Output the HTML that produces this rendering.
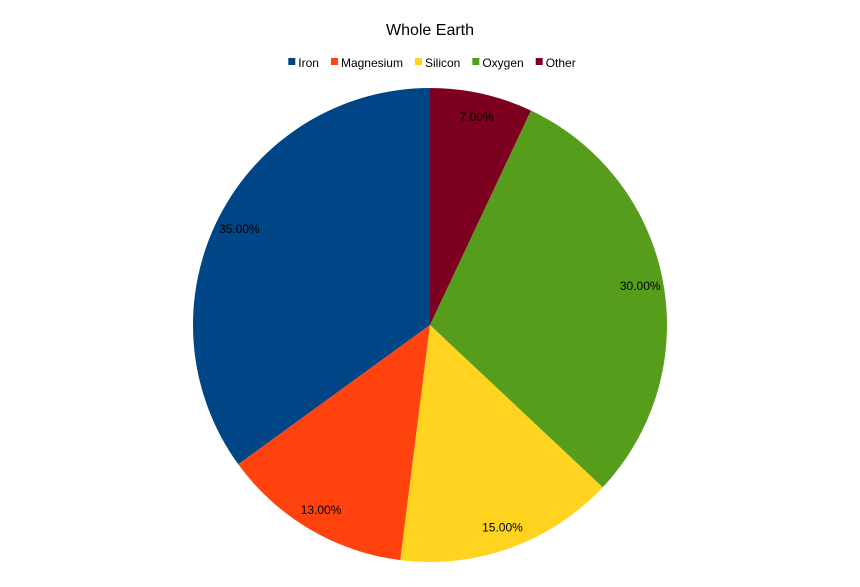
<!DOCTYPE html>
<html><head><meta charset="utf-8"><style>
body{margin:0;background:#fff;width:860px;height:582px;overflow:hidden;font-family:"Liberation Sans",sans-serif}
</style></head><body>
<svg id="chart" width="860" height="582" xmlns="http://www.w3.org/2000/svg">
<rect width="860" height="582" fill="#fff"/>
<text x="430" y="35" text-anchor="middle" font-size="16" fill="#000">Whole Earth</text>
<g id="legend"></g>
<g id="slices"></g>
<g id="labels"></g>
</svg>
<script>
const categories = ["Iron","Magnesium","Silicon","Oxygen","Other"];
const values = [35,13,15,30,7];
const colors = ["#004586","#ff420e","#ffd320","#579d1c","#7e0021"];
const NS="http://www.w3.org/2000/svg";
const cx=430, cy=325, r=237, lr=214;
const total=values.reduce((a,b)=>a+b,0);
const slices=document.getElementById('slices'), labels=document.getElementById('labels'), legend=document.getElementById('legend');
function pt(frac,rad){const a=frac*2*Math.PI;return [cx-rad*Math.sin(a), cy-rad*Math.cos(a)];}
let acc=0;
values.forEach((v,i)=>{
  const f0=acc/total, f1=(acc+v)/total; acc+=v;
  const p0=pt(f0,r), p1=pt(f1,r);
  const large=(f1-f0)>0.5?1:0;
  const path=document.createElementNS(NS,'path');
  path.setAttribute('d',`M${cx},${cy} L${p0[0]},${p0[1]} A${r},${r} 0 ${large} 0 ${p1[0]},${p1[1]} Z`);
  path.setAttribute('fill',colors[i]);
  
  
  slices.appendChild(path);
  const lp=pt((f0+f1)/2,lr);
  const t=document.createElementNS(NS,'text');
  t.setAttribute('x',lp[0]);t.setAttribute('y',lp[1]+5);
  t.setAttribute('text-anchor','middle');t.setAttribute('font-size','12');
  t.textContent=(v/total*100).toFixed(2)+'%';
  
  
  labels.appendChild(t);
});
const ctx=document.createElement('canvas').getContext('2d');
ctx.font='12px "Liberation Sans"';
let widths=categories.map(c=>10+ctx.measureText(c).width);
const gap=12;
let totalW=widths.reduce((a,b)=>a+b,0)+gap*(categories.length-1);
let x=432-totalW/2;
categories.forEach((c,i)=>{
  const g=document.createElementNS(NS,'g');
  
  
  const s=document.createElementNS(NS,'rect');
  s.setAttribute('x',x);s.setAttribute('y',58);s.setAttribute('width',7);s.setAttribute('height',7);s.setAttribute('fill',colors[i]);
  const t=document.createElementNS(NS,'text');
  t.setAttribute('x',x+10);t.setAttribute('y',67);t.setAttribute('font-size','12');t.textContent=c;
  g.appendChild(s);g.appendChild(t);legend.appendChild(g);
  x+=widths[i]+gap;
});
</script>
</body></html>
